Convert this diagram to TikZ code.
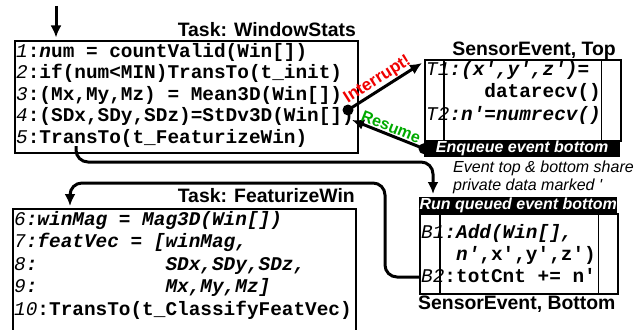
\documentclass[tikz,border=0pt]{standalone}
\usepackage{fontspec}
\setmainfont{Liberation Sans}
\setmonofont{Liberation Mono}
\usetikzlibrary{arrows.meta}

\definecolor{intred}{RGB}{240,0,0}
\definecolor{resgreen}{RGB}{0,170,0}
\newcommand\lnum[1]{{\mdseries\itshape #1}}
\newcommand\codesize{\fontsize{19.4}{22}\selectfont}

\tikzset{
  box/.style={draw, line width=1.6pt, inner sep=0pt, anchor=north west},
  code/.style={anchor=base west, inner sep=0pt, font=\codesize\ttfamily\bfseries},
  title/.style={inner sep=0pt, font=\fontsize{19.4}{22}\selectfont\bfseries},
  bar/.style={fill=black, text=white, inner sep=0pt, anchor=north west, font=\fontsize{16}{18}\selectfont\bfseries\itshape},
  note/.style={anchor=base west, inner sep=0pt, font=\fontsize{16}{18}\selectfont\itshape},
  conn/.style={line width=3pt, -{Latex[length=12pt,width=11pt]}},
  dot/.style={circle, fill=black, inner sep=0pt, minimum size=11pt},
  colline/.style={line width=1.6pt},
}

\begin{document}
\begin{tikzpicture}[x=1pt,y=-1pt]
  \clip (0,0) rectangle (636,329);
  \fill[white] (0,0) rectangle (636,329);

  % Task: WindowStats
  \node[box, minimum width=343pt, minimum height=112pt] (win) at (14,40) {};
  \node[title, anchor=base east] (wintitle) at (356,37) {Task: WindowStats};
  \node[code] (w1) at (16,57) {\lnum{1}:\textit{n}um = countValid(Win[])};
  \node[code] (w2) at (16,78.5) {\lnum{2}:if(num<MIN)TransTo(t\_init)};
  \node[code] (w3) at (16,100) {\lnum{3}:(Mx,My,Mz) = Mean3D(Win[])};
  \node[code] (w4) at (16,121.5) {\lnum{4}:(SDx,SDy,SDz)=StDv3D(Win[])};
  \node[code] (w5) at (16,143) {\lnum{5}:TransTo(t\_FeaturizeWin)};

  % Task: FeaturizeWin
  \node[box, minimum width=343pt, minimum height=130pt] (feat) at (12,208) {};
  \node[title, anchor=base east] (feattitle) at (355,202) {Task: FeaturizeWin};
  \node[code] (f6) at (14,225) {\lnum{6}\textit{:winMag = Mag3D(Win[])}};
  \node[code] (f7) at (14,247.5) {\lnum{7}\textit{:featVec = [winMag,}};
  \node[code] (f8) at (14,270) {\lnum{8}\textit{:~~~~~~~~~~~SDx,SDy,SDz,}};
  \node[code] (f9) at (14,292.5) {\lnum{9}\textit{:~~~~~~~~~~~Mx,My,Mz]}};
  \node[code] (f10) at (14,315) {\lnum{10}:TransTo(t\_ClassifyFeatVec)};

  % SensorEvent, Top
  \node[box, minimum width=196pt, minimum height=81pt] (top) at (424,59) {};
  \draw[colline] ([xshift=20pt]top.north west) -- ([xshift=20pt]top.south west);
  \draw[colline] ([xshift=-20pt]top.north east) -- ([xshift=-20pt]top.south east);
  \node[title, anchor=base east] (toptitle) at (616,56) {SensorEvent, Top};
  \node[code] (t1) at (426,75) {\lnum{T1}\textit{:(x',y',z')=}};
  \node[code] (t1b) at (426,97) {~~~~~datarecv()};
  \node[code] (t2) at (426,120) {\lnum{T2}\textit{:n'=numrecv()}};
  \node[bar, minimum width=196pt, minimum height=17pt] (enqbar) at (424,140) {Enqueue event bottom};

  \node[note] (note1) at (453,172) {Event top \& bottom share};
  \node[note] (note2) at (453,190) {private data marked \textquotesingle};

  % SensorEvent, Bottom
  \node[bar, minimum width=198pt, minimum height=16pt] (runbar) at (419,197) {Run queued event bottom};
  \node[box, minimum width=198pt, minimum height=80pt] (bot) at (419,213) {};
  \draw[colline] ([xshift=21pt]bot.north west) -- ([xshift=21pt]bot.south west);
  \draw[colline] ([xshift=-20pt]bot.north east) -- ([xshift=-20pt]bot.south east);
  \node[code] (b1) at (421,238) {\lnum{B1}\textit{:Add(Win[],}};
  \node[code] (b1b) at (421,260) {~~~\textit{n'},x',y',z')};
  \node[code] (b2) at (421,282) {\lnum{B2}:totCnt += n'};
  \node[title, anchor=base west] (bottitle) at (418,309) {SensorEvent, Bottom};

  % interrupt / resume
  \coordinate (entry) at (56,6);
  \draw[conn, shorten >=2.5pt] (entry) -- (entry |- win.north);
  \node[dot] (idot) at (348,110) {};
  \coordinate (tin) at (422,63);
  \draw[conn] (idot.center) -- node[sloped, above, pos=0.47, inner sep=0.5pt, text=intred,
    font=\fontsize{17}{19}\selectfont\bfseries] {Interrupt!} (tin);
  \node[dot] (edot) at (enqbar.west) {};
  \coordinate (rin) at (352,120);
  \draw[conn] (edot.center) -- node[sloped, above, inner sep=1pt, text=resgreen,
    font=\fontsize{16}{18}\selectfont\bfseries] {Resume} (rin);

  % transitions
  \coordinate (w5out) at (76,146);
  \draw[conn, rounded corners=12pt, shorten >=3pt] (w5out) -- ++(0,16) -| ([xshift=14pt]runbar.north west);
  \coordinate (b2out) at (bot.west |- 0,277);
  \coordinate (loopup) at (385,183);
  \draw[conn, rounded corners=12pt, shorten >=2pt] (b2out) -| (loopup) -| ([xshift=58pt]feat.north west);
\end{tikzpicture}
\end{document}
